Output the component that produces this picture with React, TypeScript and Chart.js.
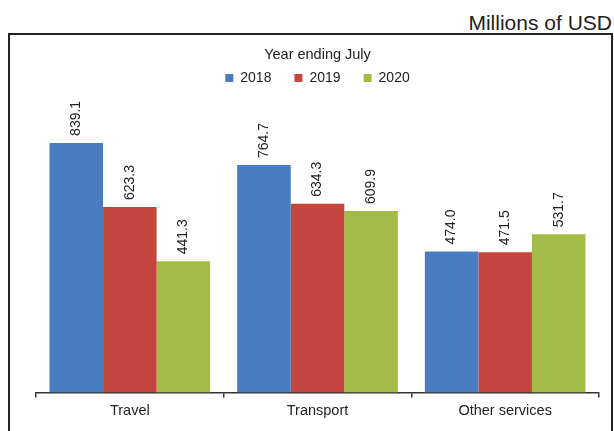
import React, { useEffect, useRef } from 'react';
import { Chart, registerables } from 'chart.js';
import type { Plugin } from 'chart.js';

Chart.register(...registerables);

const categories = ['Travel', 'Transport', 'Other services'];
const years = ['2018', '2019', '2020'];
const values2018 = [839.1, 764.7, 474.0];
const values2019 = [623.3, 634.3, 471.5];
const values2020 = [441.3, 609.9, 531.7];
const barColors = ['#4a7dbf', '#c3463f', '#a2bc47'];

const FONT = '"Liberation Sans", Arial, Helvetica, sans-serif';

// value labels, rotated, sitting just above each bar
const valueLabels: Plugin<'bar'> = {
  id: 'valueLabels',
  afterDatasetsDraw(chart) {
    const { ctx } = chart;
    chart.data.datasets.forEach((ds, i) => {
      const meta = chart.getDatasetMeta(i);
      meta.data.forEach((bar, j) => {
        const v = ds.data[j] as number;
        ctx.save();
        ctx.translate(bar.x, bar.y - 7);
        ctx.rotate(-Math.PI / 2);
        ctx.font = `14px ${FONT}`;
        ctx.fillStyle = '#222';
        ctx.textAlign = 'left';
        ctx.textBaseline = 'middle';
        ctx.fillText(v.toFixed(1), 0, 0);
        ctx.restore();
      });
    });
  },
};

const BarChart = () => {
  const canvasRef = useRef<HTMLCanvasElement>(null);

  useEffect(() => {
    if (!canvasRef.current) return () => { /* nothing */ };
    Chart.defaults.font.family = FONT;
    Chart.defaults.color = '#222';

    const chart = new Chart(canvasRef.current, {
      type: 'bar',
      data: {
        labels: categories,
        datasets: [values2018, values2019, values2020].map((vals, i) => ({
          label: years[i],
          data: vals,
          backgroundColor: barColors[i],
          borderWidth: 0,
          categoryPercentage: 0.856,
          barPercentage: 1.0,
        })),
      },
      options: {
        animation: false,
        responsive: true,
        maintainAspectRatio: false,
        layout: {
          padding: { left: 26, right: 12, top: 13, bottom: 6 },
        },
        plugins: {
          tooltip: { enabled: false },
          legend: {
            position: 'top',
            fullSize: false,
            labels: {
              boxWidth: 8,
              boxHeight: 8,
              padding: 23,
              font: { size: 14 },
              color: '#222',
            },
            title: {
              display: true,
              text: 'Year ending July',
              font: { size: 14.5 },
              color: '#222',
              padding: { top: 0, bottom: -17.4 },
            },
          },
        },
        scales: {
          x: {
            offset: true,
            grid: {
              display: true,
              offset: true,
              drawOnChartArea: false,
              drawTicks: true,
              tickLength: 5,
              color: '#333',
              lineWidth: 1.5,
            },
            border: { display: true, color: '#333', width: 1.5 },
            ticks: { font: { size: 14.5 }, color: '#222', padding: 5 },
          },
          y: {
            display: false,
            min: 0,
            max: 1000,
          },
        },
      },
      plugins: [valueLabels],
    });

    return () => {
      chart.destroy();
    };
  }, []);

  return <canvas ref={canvasRef} />;
};

export default function App() {
  return (
    <div
      style={{
        position: 'absolute',
        left: 0,
        top: 0,
        width: 614,
        height: 431,
        overflow: 'hidden',
        background: '#fff',
        fontFamily: FONT,
      }}
    >
      <div
        style={{
          position: 'absolute',
          right: 2,
          top: 12,
          fontSize: 21,
          lineHeight: '21px',
          color: '#222',
        }}
      >
        Millions of USD
      </div>
      <div
        style={{
          position: 'absolute',
          left: 8,
          top: 33,
          width: 601,
          height: 400,
          border: '2px solid #222',
        }}
      >
        <div style={{ position: 'absolute', left: 0, top: 0, width: 601, height: 396 }}>
          <BarChart />
        </div>
      </div>
    </div>
  );
}
